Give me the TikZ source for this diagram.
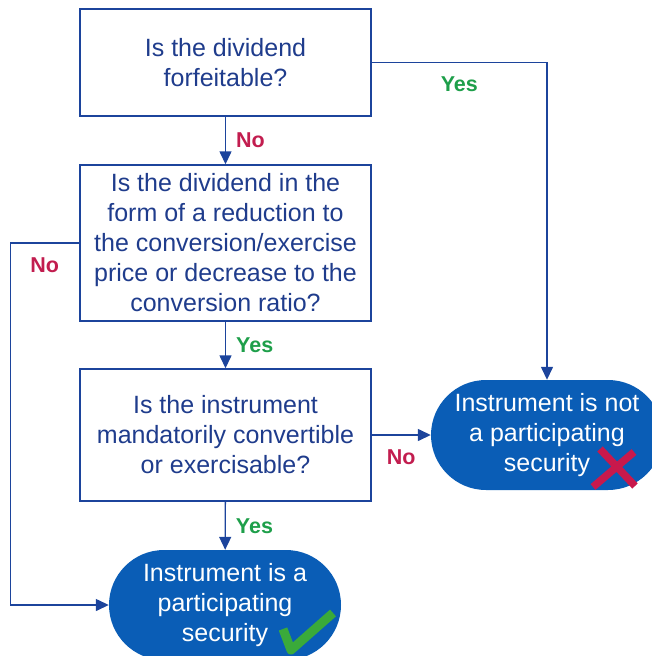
\documentclass[tikz,border=0pt]{standalone}
\usepackage{fontspec}
\setmainfont{Liberation Sans}
\usetikzlibrary{arrows.meta,shapes.misc,positioning}
\definecolor{qblue}{HTML}{1F3C8C}
\definecolor{lineblue}{HTML}{1C449C}
\definecolor{fillblue}{HTML}{0A5DB6}
\definecolor{noRed}{HTML}{C21D4F}
\definecolor{yesGreen}{HTML}{1E9F4A}
\definecolor{tickGreen}{HTML}{3AAA3A}
\definecolor{crossRed}{HTML}{C8194C}

\begin{document}
\begin{tikzpicture}[x=1pt,y=-1pt,
  q/.style={draw=lineblue,line width=1.4pt,text=qblue,minimum width=291pt,inner sep=0pt,align=center,font=\fontsize{25}{30}\selectfont},
  ans/.style={rounded rectangle,fill=fillblue,text=white,minimum width=232pt,minimum height=110pt,inner sep=0pt,align=center,font=\fontsize{25}{30}\selectfont},
  arr/.style={draw=lineblue,line width=1.4pt,-{Triangle[width=12pt,length=13pt]}},
  lbl/.style={font=\fontsize{21.5}{24}\selectfont\bfseries,inner xsep=10pt,inner ysep=14pt},
  yes/.style={lbl,text=yesGreen},
  no/.style={lbl,text=noRed}]
  \useasboundingbox (0,0) rectangle (652,656);
  % questions
  \node[q,minimum height=107pt] (forf) at (225.5,62.5) {Is the dividend\\forfeitable?};
  \node[q,minimum height=156pt] (form) at (225.5,243) {Is the dividend in the\\form of a reduction to\\the conversion/exercise\\price or decrease to the\\conversion ratio?};
  \node[q,minimum height=132pt] (mand) at (225.5,435) {Is the instrument\\mandatorily convertible\\or exercisable?};
  % outcomes
  \node[ans] (part) at (225,605) {Instrument is a\\participating\\security};
  \node[ans] (notpart) at (547,435) {Instrument is not\\a participating\\security};
  % tick and cross
  \draw[tickGreen,line width=9pt,line join=round] (283,629) -- (291,650) -- (333,613);
  \draw[crossRed,line width=7.5pt] (600,449) -- (635,486) (634,452) -- (593,487);
  % connectors
  \draw[arr] (forf) -- node[no,right] {No} (form);
  \draw[arr] (form) -- node[yes,right] {Yes} (mand);
  \draw[arr] (mand) -- node[yes,right] {Yes} (part);
  \draw[arr] (forf.east) -| node[yes,below,pos=0.25] {Yes} (notpart.north);
  \draw[arr] (mand.east) -- node[no,below] {No} (notpart.west);
  \draw[arr] (form.west) -- node[no,below] {No} ++(-69,0) |- (part.west);
\end{tikzpicture}
\end{document}
